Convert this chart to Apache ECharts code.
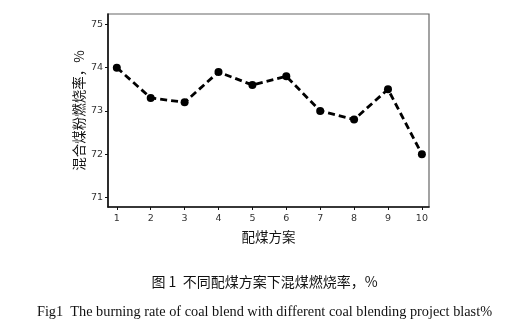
<!DOCTYPE html>
<html>
<head>
<meta charset="utf-8">
<script src="https://cdn.jsdelivr.net/npm/echarts@6/dist/echarts.min.js"></script>
<style>
  html, body { margin: 0; padding: 0; background: #fff; }
  #chart { width: 529px; height: 325px; }
</style>
</head>
<body>
<div id="chart"></div>
<script>
// Blending schemes 1..10 and the burning rate of each blend (%)
const schemes = [1, 2, 3, 4, 5, 6, 7, 8, 9, 10];
const burnRate = [74.0, 73.3, 73.2, 73.9, 73.6, 73.8, 73.0, 72.8, 73.5, 72.0];
const yTicks = [71, 72, 73, 74, 75];

const xAxisTitle = '配煤方案';
const yAxisTitle = '混合煤粉燃烧率，%';
const captionCn = '图 1  不同配煤方案下混煤燃烧率，%';
const captionEn = 'Fig1  The burning rate of coal blend with different coal blending project blast%';

const chart = echarts.init(document.getElementById('chart'), null, { renderer: 'canvas' });

const labelStyle = { color: '#333', fontSize: 9.5, fontFamily: 'DejaVu Sans' };

chart.setOption({
  animation: false,
  grid: {
    left: 108, top: 14, right: 100, bottom: 118,
    show: true, borderColor: '#666', borderWidth: 1.2, backgroundColor: 'transparent'
  },
  xAxis: {
    type: 'value',
    min: 0.74, max: 10.21,
    name: xAxisTitle,
    nameLocation: 'middle',
    nameGap: 23,
    nameMoveOverlap: false,
    nameTextStyle: { fontSize: 13.5, color: '#111', fontFamily: 'Noto Sans CJK SC' },
    axisLine: { show: true, lineStyle: { color: '#111', width: 1.6 } },
    axisTick: { show: true, customValues: schemes, length: 3, lineStyle: { color: '#111' } },
    axisLabel: { customValues: schemes, margin: 7, ...labelStyle },
    splitLine: { show: false }
  },
  yAxis: {
    type: 'value',
    min: 70.78, max: 75.24,
    name: yAxisTitle,
    nameLocation: 'middle',
    nameGap: 22,
    nameMoveOverlap: false,
    nameRotate: 90,
    nameTextStyle: { fontSize: 13.5, color: '#111', fontFamily: 'Noto Sans CJK SC' },
    axisLine: { show: true, lineStyle: { color: '#111', width: 1.6 } },
    axisTick: { show: true, customValues: yTicks, length: 3, lineStyle: { color: '#111' } },
    axisLabel: { customValues: yTicks, margin: 5, ...labelStyle },
    splitLine: { show: false }
  },
  series: [{
    type: 'line',
    data: schemes.map((s, i) => [s, burnRate[i]]),
    symbol: 'circle',
    symbolSize: 8,
    itemStyle: { color: '#000' },
    lineStyle: { color: '#000', width: 2.8, type: [7, 4] }
  }],
  graphic: [
    {
      type: 'text', left: 'center', top: 275,
      style: { text: captionCn, fontSize: 14, fill: '#111', fontFamily: 'Noto Sans CJK SC' }
    },
    {
      type: 'text', left: 'center', top: 305,
      style: { text: captionEn, fontSize: 14.3, fill: '#111', fontFamily: 'Liberation Serif' }
    }
  ]
});
</script>
</body>
</html>
